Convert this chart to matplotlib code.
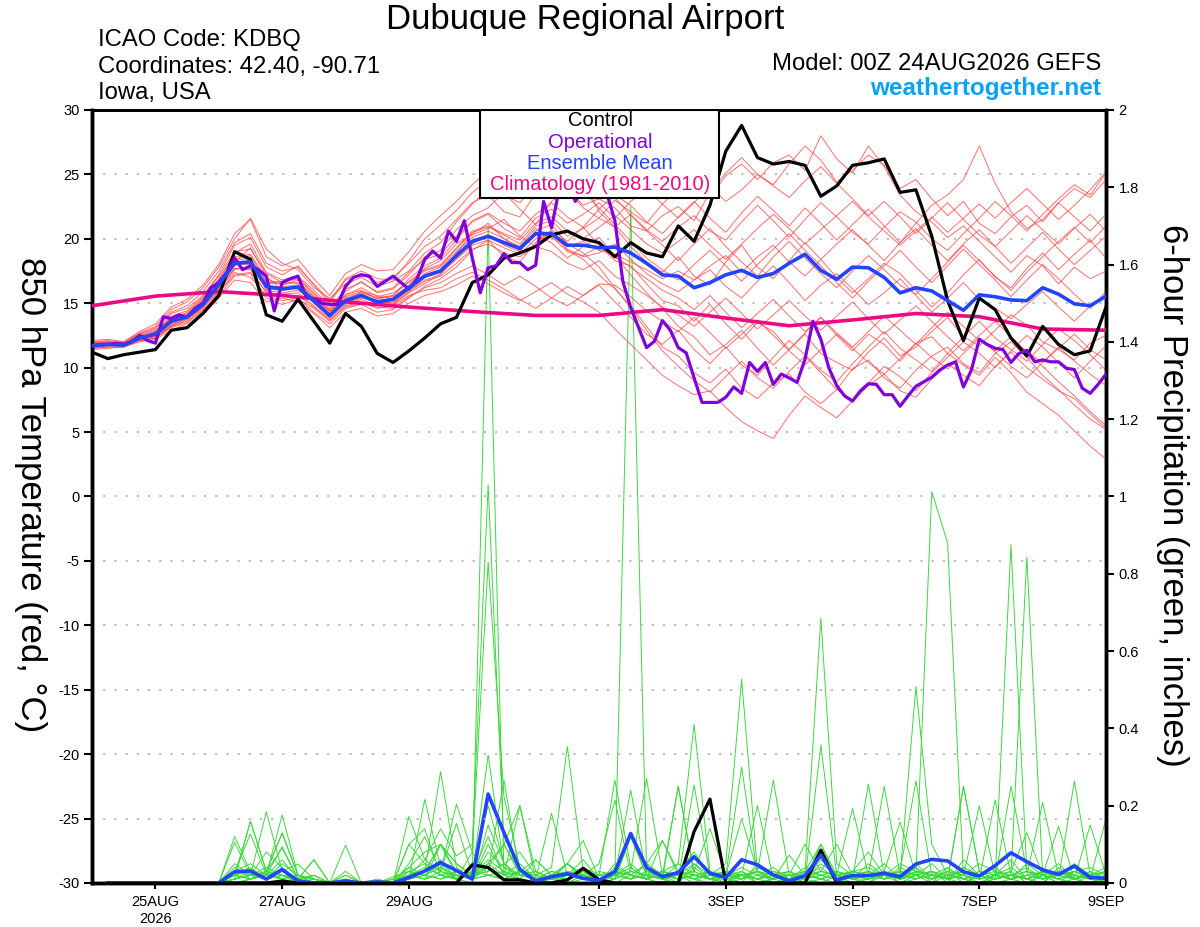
import numpy as np
import matplotlib
matplotlib.use('Agg')
from matplotlib import pyplot as plt
from matplotlib.patches import Rectangle

plt.rcParams['font.family'] = ['Liberation Sans', 'DejaVu Sans']
plt.rcParams['axes.unicode_minus'] = False

# ---- text ----
title = 'Dubuque Regional Airport'
info_left = ['ICAO Code: KDBQ', 'Coordinates: 42.40, -90.71', 'Iowa, USA']
model_txt = 'Model: 00Z 24AUG2026 GEFS'
site_txt = 'weathertogether.net'
legend_items = ['Control', 'Operational', 'Ensemble Mean', 'Climatology (1981-2010)']

# x ticks (hours since 00Z 24AUG)
xtick_hours = [24, 72, 120, 192, 240, 288, 336, 384]
xtick_labels = ['25AUG\n2026', '27AUG', '29AUG', '1SEP', '3SEP', '5SEP', '7SEP', '9SEP']

# ---- 850 hPa temperature, 6-hourly from 00Z 24AUG ----
control_t = [11.2, 10.7, 11.0, 11.2, 11.4, 12.9, 13.1, 14.2, 15.6, 19.0, 18.4, 14.1, 13.6, 15.3, 13.6, 11.9, 14.2, 13.2, 11.1, 10.4,
             11.3, 12.3, 13.4, 13.9, 16.6, 17.2, 18.5, 18.9, 19.4, 20.3, 20.6, 20.0, 19.7, 18.6, 19.7, 18.9, 18.6,
             21.0, 19.8, 22.6, 26.8, 28.8, 26.3, 25.8, 26.0, 25.7, 23.3, 24.1, 25.7, 25.9, 26.2, 23.6, 23.8, 20.2, 15.2,
             12.1, 15.4, 14.5, 12.3, 10.9, 13.2, 11.8, 11.0, 11.3, 14.7]

mean_t = [11.7, 11.8, 11.75, 12.3, 12.6, 13.6, 13.95, 14.9, 16.45, 18.1, 18.2, 16.3, 16.1, 16.25, 15.2, 14.05, 15.2, 15.6, 15.1, 15.3,
          16.2, 17.1, 17.5, 18.7, 19.8, 20.2, 19.7, 19.25, 20.4, 20.4, 19.5, 19.5, 19.3, 19.35, 18.9, 18.1, 17.2,
          17.1, 16.2, 16.6, 17.2, 17.55, 17.0, 17.3, 18.1, 18.8, 17.55, 16.85, 17.8, 17.75, 17.0, 15.8, 16.2, 15.95, 15.2,
          14.45, 15.65, 15.5, 15.25, 15.2, 16.2, 15.7, 14.95, 14.8, 15.55]

# operational run, 3-hourly
oper_t = [11.7, 11.8, 11.8, 11.9, 11.8, 12.0, 12.5, 12.1,
          11.9, 13.95, 13.8, 14.1, 13.9, 14.6, 15.0, 16.2,
          16.6, 17.4, 18.5, 17.6, 17.9, 17.6, 17.1, 14.4,
          16.6, 16.9, 17.1, 15.55, 15.3, 15.0, 14.9, 14.9,
          16.3, 17.0, 17.2, 17.1, 16.3, 16.7, 17.1, 16.6,
          16.1, 16.85, 18.4, 19.05, 18.5, 20.6, 19.8, 21.4,
          18.5, 15.8, 17.75, 17.9, 18.85, 18.15, 18.15, 17.6,
          17.95, 22.9, 20.85, 23.95, 24.5, 22.9, 24.0, 25.0,
          24.8, 23.5, 21.4, 16.7, 14.65, 13.1, 11.55, 12.05,
          13.65, 12.9, 11.55, 11.15, 9.2, 7.3, 7.3, 7.3,
          7.7, 8.5, 8.0, 10.4, 9.7, 10.4, 8.7, 9.5,
          9.2, 8.85, 10.65, 13.6, 12.2, 10.0, 8.6, 7.8,
          7.4, 8.2, 8.75, 8.7, 7.9, 7.9, 7.0, 7.8,
          8.55, 8.9, 9.25, 9.8, 10.2, 10.45, 8.5, 9.8,
          12.2, 11.8, 11.5, 11.4, 10.4, 11.1, 11.35, 10.45,
          10.6, 10.45, 10.45, 9.95, 9.85, 8.4, 8.0, 8.7,
          9.5]

# climatology, daily
clim_t = [14.8, 15.55, 15.9, 15.6, 15.1, 14.7, 14.35, 14.05, 14.05, 14.5, 13.85, 13.25, 13.7, 14.2, 13.95, 13.0, 12.9]

# ensemble members, 6-hourly
members_t = [
    [11.9, 12.0, 11.9, 12.6, 13.0, 14.2, 14.6, 15.6, 17.2, 19.5, 20.1, 17.8, 17.2, 17.9, 16.4, 15.0, 16.8, 17.3, 16.6, 17.0,
     18.1, 19.4, 20.2, 21.5, 22.8, 23.4, 22.1, 21.7, 23.5, 24.8, 23.9, 22.6, 23.1, 22.4, 21.0, 20.6, 21.8,
     22.5, 21.4, 23.6, 25.1, 26.3, 25.0, 24.2, 25.8, 27.2, 26.1, 24.4, 25.3, 26.5, 25.7, 23.9, 24.6, 23.1, 21.8, 22.9, 21.2,
     20.4, 21.7, 22.6, 21.3, 22.8, 23.9, 23.2, 24.6],
    [11.5, 11.6, 11.6, 12.1, 12.3, 13.1, 13.5, 14.3, 15.8, 17.4, 17.0, 15.6, 15.2, 15.4, 14.3, 13.4, 14.6, 14.9, 14.3, 14.5,
     15.4, 16.3, 16.9, 17.8, 19.1, 19.9, 18.6, 18.2, 19.7, 20.6, 19.1, 18.4, 17.2, 16.1, 14.8, 13.2, 11.6,
     10.9, 9.6, 8.8, 9.9, 8.4, 7.6, 8.8, 9.5, 8.1, 7.2, 8.3, 9.9, 10.6, 9.2, 8.4, 9.8, 10.9, 11.6, 10.3, 9.6,
     11.1, 12.0, 10.8, 9.4, 8.3, 7.1, 6.0, 5.2],
    [12.1, 12.2, 12.0, 12.8, 13.4, 14.7, 15.3, 16.4, 18.0, 20.4, 21.5, 18.6, 17.9, 18.4, 16.9, 15.6, 17.3, 18.0, 17.5, 17.6,
     19.0, 20.6, 21.8, 22.9, 24.2, 25.3, 24.1, 23.6, 25.8, 25.1, 23.2, 24.6, 22.1, 20.9, 19.4, 18.2, 17.4,
     18.6, 17.1, 16.4, 18.2, 19.5, 17.8, 16.9, 18.3, 19.7, 18.4, 17.0, 15.8, 16.9, 18.1, 17.3, 16.0, 14.7, 15.8, 17.2, 18.4,
     17.0, 16.2, 17.7, 18.9, 17.6, 18.8, 19.9, 18.5],
    [11.6, 11.7, 11.8, 12.2, 12.4, 13.3, 13.8, 14.6, 16.0, 17.6, 17.9, 16.5, 16.6, 16.9, 15.7, 14.4, 15.1, 15.9, 15.6, 15.3,
     16.0, 16.8, 17.2, 18.9, 20.4, 21.2, 20.0, 19.1, 20.3, 19.7, 18.5, 19.4, 20.1, 18.7, 17.2, 15.8, 14.6,
     13.2, 12.4, 11.0, 11.8, 12.9, 11.5, 10.2, 11.4, 12.6, 11.1, 10.4, 9.8, 11.2, 12.3, 10.9, 11.6, 12.8, 13.9, 12.4, 11.7,
     12.9, 14.1, 13.3, 12.0, 11.4, 10.6, 11.9, 12.5],
    [11.8, 11.9, 11.7, 12.4, 12.7, 13.9, 14.1, 15.2, 16.9, 18.6, 18.8, 16.9, 16.4, 16.8, 15.5, 14.3, 15.6, 16.2, 15.5, 15.8,
     16.6, 17.5, 17.9, 19.2, 20.5, 20.9, 20.3, 19.6, 21.0, 21.4, 20.2, 20.8, 21.6, 20.9, 21.9, 20.7, 19.8,
     20.9, 21.8, 20.6, 19.9, 21.3, 22.6, 21.4, 20.1, 21.5, 22.8, 21.7, 20.5, 19.6, 20.9, 22.1, 21.3, 20.0, 19.1, 20.4, 21.6,
     22.9, 21.8, 20.6, 21.9, 23.1, 24.2, 23.4, 25.1],
    [11.4, 11.5, 11.6, 12.0, 12.2, 12.9, 13.4, 14.1, 15.4, 16.8, 16.6, 15.1, 15.4, 15.1, 14.2, 13.1, 14.3, 14.6, 14.0, 14.2,
     15.0, 15.6, 15.9, 16.4, 17.1, 16.5, 15.8, 15.2, 15.9, 16.6, 15.7, 15.1, 14.3, 13.0, 11.8, 10.6, 9.4,
     8.6, 7.9, 8.2, 6.9, 5.8, 5.1, 4.5, 6.3, 7.8, 6.9, 6.1, 7.4, 8.6, 9.5, 8.2, 7.7, 9.1, 10.3, 9.4, 8.6,
     10.1, 11.2, 10.0, 9.1, 8.2, 7.6, 6.4, 5.3],
    [11.9, 11.8, 11.9, 12.5, 12.9, 13.8, 14.2, 15.3, 16.6, 18.2, 19.3, 17.1, 16.0, 16.3, 15.0, 13.9, 15.4, 15.8, 15.4, 15.5,
     16.4, 17.7, 18.3, 19.6, 20.3, 20.8, 21.5, 20.2, 19.4, 20.7, 19.8, 20.9, 19.5, 18.3, 17.9, 16.5, 15.2,
     14.8, 13.6, 14.9, 13.4, 12.2, 13.5, 12.8, 11.4, 12.7, 13.9, 12.5, 11.3, 12.6, 11.8, 10.5, 11.9, 12.4, 11.1, 10.2, 9.4,
     10.8, 9.6, 8.1, 7.2, 6.3, 5.1, 3.9, 2.9],
    [11.7, 11.9, 11.8, 12.3, 12.8, 13.7, 14.3, 15.4, 16.8, 18.9, 19.6, 17.4, 16.8, 17.1, 16.0, 14.8, 15.9, 16.7, 15.8, 16.1,
     17.2, 18.6, 19.1, 20.7, 21.8, 22.4, 23.6, 22.3, 21.1, 22.9, 23.8, 22.4, 21.6, 23.0, 22.1, 21.2, 22.7,
     23.9, 24.8, 23.2, 24.9, 25.8, 24.6, 25.9, 26.5, 25.3, 28.0, 26.2, 25.1, 27.2, 25.6, 23.4, 22.1, 21.3, 20.1, 21.0, 19.8,
     18.6, 17.4, 18.7, 17.9, 16.5, 17.8, 16.9, 17.5],
    [11.6, 11.8, 11.9, 12.2, 12.5, 13.4, 13.9, 14.8, 16.3, 17.9, 18.4, 16.0, 15.8, 16.0, 15.1, 14.0, 15.0, 15.4, 15.2, 14.9,
     15.8, 16.5, 17.3, 18.4, 19.5, 19.9, 19.3, 18.8, 20.0, 20.5, 19.2, 18.6, 18.9, 19.6, 18.4, 17.3, 16.5,
     15.9, 16.8, 17.6, 16.3, 15.4, 16.7, 17.9, 16.6, 15.2, 16.4, 17.3, 16.1, 14.9, 15.8, 16.9, 15.6, 14.3, 15.4, 16.6, 15.3,
     14.6, 13.8, 14.9, 15.9, 14.7, 13.6, 14.8, 15.6],
    [12.0, 12.1, 12.0, 12.7, 13.2, 14.5, 15.1, 16.2, 17.8, 20.0, 21.6, 19.2, 18.1, 17.6, 16.2, 15.4, 16.5, 17.0, 16.3, 16.7,
     17.5, 18.9, 19.7, 21.3, 22.7, 23.9, 24.8, 25.6, 24.4, 23.1, 24.7, 25.9, 24.6, 23.2, 21.8, 20.6, 19.5,
     18.3, 19.6, 20.8, 19.4, 18.2, 17.1, 18.6, 19.8, 18.5, 17.3, 16.2, 17.5, 18.7, 17.6, 16.4, 15.7, 16.9, 18.2, 19.5, 18.3,
     17.1, 16.0, 17.4, 18.6, 19.8, 20.9, 19.7, 21.0],
    [11.5, 11.7, 11.7, 12.1, 12.3, 13.2, 13.7, 14.5, 15.6, 17.1, 17.3, 15.4, 14.9, 15.3, 14.6, 13.6, 14.8, 15.1, 14.6, 14.8,
     15.6, 16.0, 16.2, 16.9, 17.4, 16.8, 16.1, 15.3, 14.6, 15.4, 16.3, 15.6, 16.4, 15.1, 13.9, 12.6, 11.8,
     12.9, 11.4, 10.3, 11.6, 10.2, 9.4, 10.8, 12.1, 11.0, 9.8, 8.9, 10.3, 11.6, 12.8, 11.5, 10.6, 9.7, 11.1, 12.4, 13.6,
     12.3, 11.4, 10.5, 11.8, 13.0, 12.1, 11.0, 9.8],
    [11.8, 11.9, 11.8, 12.4, 12.6, 13.8, 14.0, 15.0, 16.7, 18.3, 18.5, 16.6, 16.7, 16.5, 15.4, 14.5, 15.7, 16.0, 15.3, 15.6,
     16.9, 17.9, 18.5, 19.9, 21.4, 22.0, 21.2, 20.6, 21.9, 22.8, 21.7, 20.9, 22.3, 23.4, 22.6, 21.3, 20.4,
     21.7, 22.9, 21.6, 20.5, 22.0, 23.3, 22.2, 21.0, 22.4, 21.2, 19.9, 21.1, 22.3, 21.0, 19.7, 20.8, 19.5, 18.3, 19.6, 20.7,
     19.4, 18.1, 19.3, 20.5, 19.2, 18.0, 19.1, 20.2],
    [11.7, 11.7, 11.8, 12.3, 12.5, 13.5, 13.8, 14.7, 16.2, 17.7, 17.7, 16.2, 16.3, 16.4, 15.3, 14.2, 15.3, 15.7, 15.0, 15.1,
     16.0, 17.0, 17.4, 18.5, 19.6, 20.3, 19.5, 19.0, 20.6, 21.1, 19.6, 18.9, 17.8, 16.2, 14.6, 12.9, 11.3,
     10.1, 9.0, 8.1, 9.3, 10.5, 9.2, 8.4, 9.7, 10.9, 9.6, 8.3, 7.5, 8.8, 10.1, 9.3, 8.2, 9.6, 10.8, 12.0, 11.1,
     10.0, 11.3, 12.5, 11.6, 10.4, 9.2, 10.5, 11.7],
    [11.6, 11.8, 11.7, 12.2, 12.6, 13.6, 13.9, 14.9, 16.5, 18.0, 18.0, 16.4, 16.2, 16.1, 15.0, 14.1, 15.2, 15.5, 15.2, 15.0,
     16.1, 17.2, 17.6, 18.6, 19.7, 20.1, 19.8, 19.4, 20.5, 20.1, 19.4, 19.8, 19.1, 18.8, 18.2, 17.6, 16.9,
     17.5, 16.8, 17.9, 18.7, 17.4, 18.6, 19.5, 18.2, 17.1, 18.4, 19.6, 20.7, 19.5, 18.3, 19.7, 21.2, 22.6, 23.4, 24.6, 27.2,
     24.3, 22.1, 20.8, 21.5, 22.8, 21.7, 20.6, 21.9],
    [11.8, 11.8, 11.7, 12.3, 12.7, 13.6, 14.0, 15.0, 16.4, 18.2, 18.3, 16.1, 16.0, 16.2, 15.1, 13.9, 15.1, 15.5, 15.0, 15.3,
     16.3, 17.3, 17.8, 19.0, 20.1, 20.6, 20.0, 19.4, 20.8, 20.2, 19.0, 18.7, 19.4, 18.6, 17.8, 16.9, 16.0,
     15.4, 14.5, 15.6, 14.3, 13.1, 14.2, 15.3, 14.0, 12.8, 13.9, 12.7, 11.6, 12.8, 14.0, 12.9, 11.8, 13.1, 14.3, 13.2, 12.1,
     11.3, 12.4, 11.2, 10.4, 11.5, 12.6, 11.4, 10.6],
    [11.9, 12.0, 11.9, 12.5, 12.8, 14.0, 14.4, 15.5, 17.1, 19.0, 19.2, 17.3, 16.6, 17.0, 15.8, 14.6, 16.1, 16.6, 15.9, 16.2,
     17.4, 18.4, 18.8, 20.2, 21.3, 21.9, 20.8, 20.1, 21.6, 22.3, 21.2, 21.9, 22.8, 21.6, 22.9, 23.8, 22.7,
     21.6, 22.8, 24.1, 22.9, 23.8, 25.0, 24.1, 23.2, 24.5, 25.6, 24.3, 23.1, 21.8, 22.9, 21.7, 20.4, 21.6, 22.8, 21.5, 20.3,
     19.4, 20.6, 21.8, 20.7, 19.6, 20.8, 21.9, 20.6],
    [11.6, 11.7, 11.7, 12.2, 12.4, 13.3, 13.8, 14.7, 16.1, 17.7, 17.6, 15.8, 15.7, 15.8, 14.8, 13.8, 14.9, 15.3, 14.8, 14.9,
     15.9, 16.7, 17.1, 18.1, 19.2, 19.6, 18.9, 18.6, 19.4, 19.0, 18.1, 17.6, 18.3, 17.1, 16.4, 15.6, 14.7,
     14.1, 13.2, 14.3, 15.4, 14.2, 13.0, 14.1, 15.2, 14.0, 12.9, 14.0, 15.1, 13.8, 12.6, 13.7, 14.8, 13.6, 12.4, 11.3, 12.5,
     13.6, 12.4, 11.2, 10.1, 8.9, 7.8, 6.6, 5.5],
    [12.0, 12.0, 11.9, 12.6, 13.1, 14.3, 14.8, 15.9, 17.5, 19.7, 20.4, 18.1, 17.5, 17.8, 16.5, 15.2, 16.9, 17.5, 16.9, 16.8,
     18.3, 20.0, 21.1, 22.2, 23.6, 24.5, 23.4, 22.8, 24.2, 26.0, 25.1, 23.7, 22.4, 21.1, 19.8, 18.5, 17.6,
     16.8, 18.0, 19.1, 17.9, 16.7, 18.0, 19.2, 20.4, 19.1, 17.9, 16.6, 15.4, 16.7, 17.9, 19.1, 17.8, 16.6, 17.9, 19.2, 18.0,
     16.8, 15.5, 16.8, 18.0, 16.9, 15.7, 14.6, 15.9],
    [11.5, 11.6, 11.6, 12.1, 12.3, 13.2, 13.6, 14.4, 15.9, 17.2, 17.4, 15.9, 15.6, 15.6, 14.7, 13.7, 14.7, 15.0, 14.7, 14.6,
     15.5, 16.2, 16.6, 17.3, 17.9, 17.2, 16.4, 17.1, 16.3, 15.4, 14.8, 15.6, 16.5, 16.4, 15.5, 14.4, 13.6,
     12.8, 13.9, 12.7, 11.5, 12.6, 13.7, 12.5, 11.3, 10.2, 11.4, 12.6, 11.5, 10.4, 9.5, 10.7, 11.9, 10.8, 9.9, 11.1, 12.3,
     11.2, 10.1, 9.2, 10.4, 11.6, 10.5, 9.5, 8.6],
    [11.7, 11.9, 11.8, 12.4, 12.7, 13.8, 14.1, 15.1, 16.6, 18.4, 18.7, 16.7, 16.5, 16.6, 15.5, 14.4, 15.5, 15.9, 15.4, 15.6,
     16.7, 17.6, 18.0, 19.3, 20.6, 21.0, 20.4, 19.9, 21.2, 21.7, 20.6, 20.0, 20.9, 21.8, 20.7, 19.6, 18.9,
     19.8, 20.7, 19.5, 18.4, 19.6, 20.8, 21.9, 20.8, 19.6, 20.7, 21.8, 22.9, 21.7, 20.6, 19.5, 20.6, 21.7, 20.5, 21.6, 22.7,
     21.6, 22.8, 23.9, 22.7, 21.5, 22.6, 23.8, 25.2],
]

# ---- 6-hour precipitation (inches), first value at 06Z 24AUG ----
control_p = [0, 0, 0, 0, 0, 0, 0, 0,
             0, 0, 0, 0.005, 0, 0, 0, 0,
             0, 0, 0, 0, 0, 0, 0, 0.047,
             0.04, 0.008, 0.008, 0, 0, 0.008, 0.038, 0.008,
             0, 0, 0, 0, 0, 0.133, 0.217, 0,
             0, 0, 0, 0, 0, 0.085, 0, 0,
             0, 0, 0, 0, 0, 0, 0, 0,
             0, 0, 0, 0, 0, 0, 0, 0]

mean_p = [0, 0, 0, 0, 0, 0, 0, 0,
          0.029, 0.031, 0.01, 0.035, 0.005, 0, 0, 0.005,
          0, 0.003, 0, 0.014, 0.031, 0.053, 0.032, 0.01,
          0.23, 0.13, 0.035, 0.005, 0.016, 0.024, 0.012, 0.007,
          0.029, 0.128, 0.04, 0.016, 0.027, 0.068, 0.025, 0.014,
          0.06, 0.047, 0.021, 0.005, 0.019, 0.072, 0.008, 0.019,
          0.019, 0.025, 0.016, 0.049, 0.061, 0.057, 0.029, 0.018,
          0.045, 0.078, 0.055, 0.034, 0.022, 0.044, 0.014, 0.012]

members_p = [
    [0, 0, 0, 0, 0, 0, 0, 0, 0.03, 0.05, 0.02, 0.06, 0.01, 0, 0, 0.02,
     0, 0, 0.01, 0.04, 0.08, 0.1, 0.05, 0.02, 1.70, 0.02, 0.01, 0, 0, 0.03, 0.01, 0,
     0.05, 0.02, 0.01, 0, 0.03, 0.08, 0.02, 0, 0.02, 0.01, 0, 0, 0.01, 0.06, 0.02, 0,
     0.01, 0.03, 0, 0.02, 0.05, 0.01, 0, 0.02, 0.04, 0.01, 0, 0.02, 0, 0.01, 0.03, 0],
    [0, 0, 0, 0, 0, 0, 0, 0, 0.01, 0.02, 0.08, 0.04, 0, 0.01, 0, 0,
     0, 0, 0, 0.02, 0.06, 0.14, 0.07, 0.1, 1.03, 0.1, 0.03, 0, 0, 0, 0.02, 0,
     0.01, 0.03, 0.27, 0.02, 0, 0.05, 0.01, 0, 0.03, 0, 0.01, 0.02, 0, 0.01, 0, 0.03,
     0.08, 0.02, 0, 0.01, 0.03, 0, 0.06, 0.02, 0, 0.01, 0.05, 0.02, 0, 0.03, 0.01, 0],
    [0, 0, 0, 0, 0, 0, 0, 0, 0.12, 0.03, 0.01, 0.02, 0, 0, 0, 0.01,
     0, 0.01, 0, 0.1, 0.05, 0.03, 0.204, 0.08, 0.83, 0.223, 0.04, 0.01, 0, 0.02, 0.04, 0.01,
     0, 0.02, 0.05, 0.11, 0.02, 0, 0.03, 0.01, 0, 0.05, 0.02, 0, 0.03, 0.1, 0.01, 0,
     0, 0.02, 0.01, 0.04, 0, 0.02, 0.01, 0, 0.02, 0.06, 0.01, 0, 0.04, 0.01, 0, 0.02],
    [0, 0, 0, 0, 0, 0, 0, 0, 0.02, 0.01, 0.03, 0.09, 0.01, 0, 0, 0,
     0, 0, 0, 0.03, 0.02, 0.05, 0.01, 0, 0.15, 0.05, 0.01, 0, 0.02, 0.01, 0.03, 0,
     0.02, 1.75, 0.03, 0.01, 0, 0.04, 0.01, 0, 0.02, 0, 0.01, 0.03, 0.01, 0, 0.02, 0.01,
     0, 0.03, 0.01, 0.02, 0, 0.04, 0.01, 0, 0.01, 0.03, 0, 0.02, 0.05, 0.01, 0, 0.01],
    [0, 0, 0, 0, 0, 0, 0, 0, 0, 0.01, 0.02, 0.01, 0, 0, 0, 0,
     0, 0, 0.01, 0.02, 0.04, 0.02, 0.01, 0.03, 0.2, 0.05, 0.02, 0.01, 0, 0.01, 0.02, 0.01,
     0.03, 0.01, 0.05, 0.02, 0.01, 0.02, 0.01, 0, 0.01, 0.03, 0, 0.01, 0.02, 0.01, 0, 0.02,
     0.01, 0.02, 0.03, 0.02, 1.012, 0.88, 0.02, 0, 0.01, 0.02, 0.01, 0, 0.03, 0.01, 0.02, 0],
    [0, 0, 0, 0, 0, 0, 0, 0, 0.01, 0.16, 0.03, 0.13, 0.02, 0, 0, 0,
     0, 0, 0, 0.05, 0.12, 0.03, 0.02, 0.01, 0.05, 0.1, 0.2, 0.03, 0.01, 0, 0.01, 0,
     0.01, 0.12, 0.02, 0.01, 0.05, 0.02, 0.01, 0.02, 0.167, 0.03, 0.01, 0, 0.02, 0.04, 0.01, 0.03,
     0.02, 0.01, 0.04, 0.02, 0.01, 0.03, 0, 0.02, 0.01, 0.875, 0.03, 0.01, 0.02, 0.04, 0.01, 0.03],
    [0, 0, 0, 0, 0, 0, 0, 0, 0.05, 0.02, 0.01, 0.03, 0.01, 0.06, 0, 0,
     0, 0, 0, 0.02, 0.03, 0.1, 0.05, 0.02, 0.06, 0.03, 0.01, 0.06, 0.02, 0.05, 0.11, 0.01,
     0.02, 0.01, 0.03, 0.02, 0.25, 0.03, 0.01, 0.02, 0.01, 0.02, 0.04, 0.01, 0.01, 0.02, 0.03, 0.01,
     0.05, 0.02, 0.01, 0.03, 0.02, 0.01, 0.04, 0.02, 0.01, 0.02, 0.843, 0.02, 0.01, 0.03, 0.02, 0.01],
    [0, 0, 0, 0, 0, 0, 0, 0, 0, 0.01, 0.02, 0.03, 0.049, 0.01, 0, 0,
     0, 0, 0, 0.172, 0.06, 0.03, 0.01, 0.02, 0.331, 0.04, 0.02, 0.01, 0.03, 0.02, 0.01, 0,
     0.04, 0.02, 0.01, 0.03, 0.02, 0.01, 0, 0.02, 0.03, 0.01, 0.02, 0.01, 0.03, 0.685, 0.05, 0.02,
     0.01, 0.03, 0.02, 0.05, 0.01, 0.02, 0.03, 0.01, 0.02, 0.01, 0.03, 0.02, 0.01, 0, 0.02, 0.01],
    [0, 0, 0, 0, 0, 0, 0, 0, 0.02, 0.04, 0.01, 0.02, 0, 0.02, 0, 0,
     0, 0, 0, 0.01, 0.216, 0.04, 0.02, 0.01, 0.1, 0.02, 0.01, 0, 0.01, 0.05, 0.02, 0.01,
     0.02, 0.04, 0.01, 0.03, 0.02, 0.05, 0.02, 0.05, 0.527, 0.03, 0.02, 0.01, 0.03, 0.02, 0.01, 0.03,
     0.02, 0.05, 0.01, 0.03, 0.02, 0.01, 0.04, 0.02, 0.03, 0.01, 0.02, 0.01, 0.03, 0.02, 0.01, 0.02],
    [0, 0, 0, 0, 0, 0, 0, 0, 0.03, 0.127, 0.02, 0.01, 0, 0, 0, 0.03,
     0, 0, 0, 0.02, 0.01, 0.1, 0.03, 0.02, 0.05, 0.02, 0.03, 0.01, 0.02, 0.01, 0.03, 0.02,
     0.01, 0.03, 0.02, 0.01, 0.03, 0.02, 0.01, 0.02, 0.04, 0.02, 0.01, 0.02, 0.01, 0.03, 0.02, 0.01,
     0.03, 0.01, 0.02, 0.508, 0.1, 0.02, 0.01, 0.03, 0.01, 0.02, 0.01, 0.03, 0.02, 0.01, 0.03, 0.01],
    [0, 0, 0, 0, 0, 0, 0, 0, 0.01, 0.02, 0.184, 0.03, 0.01, 0, 0, 0.01,
     0, 0, 0, 0.01, 0.03, 0.288, 0.04, 0.01, 0.02, 0.01, 0.03, 0.02, 0.01, 0.02, 0.01, 0.02,
     0.03, 0.02, 0.01, 0.03, 0.05, 0.41, 0.03, 0.01, 0.02, 0.01, 0.03, 0.02, 0.01, 0.02, 0.03, 0.01,
     0.02, 0.03, 0.01, 0.02, 0.03, 0.01, 0.25, 0.03, 0.02, 0.01, 0.02, 0.03, 0.01, 0.02, 0.01, 0.03],
    [0, 0, 0, 0, 0, 0, 0, 0, 0.02, 0.01, 0.02, 0.176, 0.02, 0.01, 0, 0,
     0, 0, 0, 0.02, 0.01, 0.03, 0.154, 0.02, 0.03, 0.05, 0.08, 0.02, 0.04, 0.353, 0.03, 0.01,
     0.02, 0.03, 0.02, 0.01, 0.02, 0.03, 0.141, 0.02, 0.01, 0.03, 0.02, 0.01, 0.02, 0.03, 0.02, 0.193,
     0.02, 0.01, 0.03, 0.02, 0.01, 0.02, 0.03, 0.01, 0.215, 0.02, 0.01, 0.03, 0.02, 0.01, 0.02, 0.03],
    [0, 0, 0, 0, 0, 0, 0, 0, 0.105, 0.02, 0.01, 0.02, 0.01, 0.06, 0, 0.02,
     0, 0, 0, 0.01, 0.02, 0.04, 0.01, 0.02, 0.03, 0.266, 0.02, 0.01, 0.02, 0.05, 0.01, 0.02,
     0.266, 0.04, 0.01, 0.02, 0.01, 0.253, 0.02, 0.03, 0.02, 0.01, 0.02, 0.03, 0.01, 0.357, 0.02, 0.01,
     0.256, 0.02, 0.01, 0.03, 0.02, 0.01, 0.02, 0.2, 0.02, 0.01, 0.02, 0.208, 0.02, 0.01, 0.02, 0.01],
    [0, 0, 0, 0, 0, 0, 0, 0, 0.02, 0.159, 0.03, 0.128, 0.02, 0.01, 0, 0.098,
     0, 0, 0.016, 0.03, 0.02, 0.01, 0.03, 0.02, 0.04, 0.02, 0.2, 0.01, 0.18, 0.02, 0.01, 0.03,
     0.02, 0.24, 0.02, 0.01, 0.02, 0.03, 0.01, 0.02, 0.3, 0.02, 0.01, 0.02, 0.1, 0.03, 0.02, 0.01,
     0.02, 0.25, 0.02, 0.01, 0.03, 0.02, 0.01, 0.02, 0.01, 0.25, 0.03, 0.02, 0.01, 0.264, 0.02, 0.03],
    [0, 0, 0, 0, 0, 0, 0, 0, 0.01, 0.03, 0.02, 0.094, 0.01, 0.02, 0, 0,
     0, 0, 0, 0.02, 0.01, 0.02, 0.01, 0.03, 0.02, 0.01, 0.03, 0.06, 0.02, 0.01, 0.02, 0.05,
     0.215, 0.02, 0.01, 0.03, 0.02, 0.01, 0.03, 0.02, 0.02, 0.03, 0.266, 0.02, 0.01, 0.1, 0.02, 0.03,
     0.02, 0.03, 0.158, 0.02, 0.01, 0.03, 0.02, 0.01, 0.02, 0.03, 0.13, 0.02, 0.146, 0.01, 0.15, 0.02],
    [0, 0, 0, 0, 0, 0, 0, 0, 0.04, 0.01, 0.03, 0.02, 0.01, 0, 0, 0,
     0, 0, 0, 0.1, 0.14, 0.02, 0.01, 0.08, 0.02, 0.01, 0.03, 0.02, 0.01, 0.02, 0.01, 0.02,
     0.01, 0.12, 0.02, 0.01, 0.25, 0.02, 0.01, 0.02, 0.02, 0.01, 0.02, 0.01, 0.02, 0.03, 0.1, 0.02,
     0.01, 0.02, 0.03, 0.264, 0.02, 0.01, 0.25, 0.03, 0.01, 0.02, 0.03, 0.01, 0.02, 0.03, 0.01, 0.167],
    [0, 0, 0, 0, 0, 0, 0, 0, 0.01, 0.02, 0.01, 0.03, 0, 0.01, 0, 0.01,
     0, 0, 0, 0.01, 0.02, 0.01, 0.02, 0.01, 0.02, 0.03, 0.02, 0.01, 0.02, 0.03, 0.02, 0.01,
     0.02, 0.01, 0.02, 0.03, 0.01, 0.02, 0.01, 0.01, 0.02, 0.2, 0.01, 0.072, 0.02, 0.01, 0.03, 0.02,
     0.03, 0.02, 0.01, 0.02, 0.03, 0.01, 0.02, 0.01, 0.02, 0.01, 0.02, 0.01, 0.03, 0.02, 0.01, 0.02],
    [0, 0, 0, 0, 0, 0, 0, 0, 0.03, 0.02, 0.04, 0.02, 0.01, 0.02, 0, 0,
     0, 0, 0, 0.03, 0.05, 0.02, 0.03, 0.01, 0.08, 0.04, 0.02, 0.03, 0.01, 0.02, 0.04, 0.02,
     0.03, 0.02, 0.05, 0.02, 0.03, 0.01, 0.02, 0.03, 0.01, 0.04, 0.02, 0.03, 0.01, 0.05, 0.02, 0.03,
     0.04, 0.02, 0.05, 0.03, 0.02, 0.04, 0.01, 0.03, 0.02, 0.04, 0.01, 0.03, 0.02, 0.05, 0.02, 0.04],
    [0, 0, 0, 0, 0, 0, 0, 0, 0.02, 0.03, 0.01, 0.05, 0.02, 0.01, 0, 0,
     0, 0, 0, 0.04, 0.02, 0.06, 0.01, 0.02, 0.12, 0.02, 0.05, 0.01, 0.03, 0.02, 0.06, 0.01,
     0.02, 0.05, 0.01, 0.11, 0.03, 0.02, 0.01, 0.03, 0.02, 0.01, 0.03, 0.01, 0.04, 0.02, 0.01, 0.02,
     0.03, 0.01, 0.02, 0.04, 0.01, 0.03, 0.02, 0.05, 0.03, 0.02, 0.04, 0.01, 0.02, 0.03, 0.04, 0.02],
    [0, 0, 0, 0, 0, 0, 0, 0, 0.01, 0.02, 0.03, 0.01, 0.02, 0, 0, 0,
     0, 0, 0, 0.01, 0.03, 0.1, 0.02, 0.01, 0.04, 0.1, 0.02, 0.03, 0.01, 0.05, 0.02, 0.01,
     0.02, 0.01, 0.03, 0.02, 0.01, 0.02, 0.03, 0.01, 0.02, 0.03, 0.01, 0.02, 0.03, 0.01, 0.02, 0.01,
     0.01, 0.02, 0.03, 0.01, 0.02, 0.01, 0.03, 0.02, 0.01, 0.02, 0.01, 0.02, 0.03, 0.01, 0.02, 0.01],
]

# ---- colours ----
c_member_t = '#ff4a4a'
c_member_p = '#3cd83c'
c_control = 'black'
c_oper = '#8000dc'
c_mean = '#2244ff'
c_clim = '#ec0a84'
legend_colors = [c_control, c_oper, c_mean, c_clim]


def hours(vals, step, start=0):
    return start + np.arange(len(vals)) * step


fig = plt.figure(figsize=(12, 9.27), dpi=100)
ax = fig.add_axes([0.0767, 0.0475, 0.845, 0.8339])
ax2 = ax.twinx()
ax.set_zorder(ax2.get_zorder() + 1)
ax.patch.set_visible(False)

# precipitation (right axis)
for m in members_p:
    ax2.plot(hours(m, 6, 6), m, color=c_member_p, lw=0.7)
ax2.plot(hours(control_p, 6, 6), control_p, color=c_control, lw=2.3, zorder=5)
ax2.plot(hours(mean_p, 6, 6), mean_p, color=c_mean, lw=2.6, zorder=6)

# temperature (left axis)
for m in members_t:
    ax.plot(hours(m, 6), m, color=c_member_t, lw=0.7, alpha=0.8, zorder=2)
ax.plot(hours(clim_t, 24), clim_t, color=c_clim, lw=2.6, zorder=3)
ax.plot(hours(control_t, 6), control_t, color=c_control, lw=2.3, zorder=4)
ax.plot(hours(oper_t, 3), oper_t, color=c_oper, lw=2.3, zorder=5)
ax.plot(hours(mean_t, 6), mean_t, color=c_mean, lw=2.6, zorder=6)

# axes setup
ax.set_xlim(0, 384)
ax.set_ylim(-30, 30)
ax.set_yticks(np.arange(-30, 31, 5))
ax.set_xticks(xtick_hours)
ax.set_xticklabels(xtick_labels, linespacing=1.25)
ax.yaxis.grid(True, linestyle=(0, (1.2, 5)), color='#b4b4b4', lw=1.3)
ax.tick_params(axis='y', direction='out', length=6, width=1.5, labelsize=10.5, pad=3)
ax.tick_params(axis='x', direction='out', length=4, width=1.5, labelsize=10.5, pad=5)

ax2.set_ylim(0, 2)
p_ticks = np.arange(0, 2.01, 0.2)
ax2.set_yticks(p_ticks)
ax2.set_yticklabels(['%g' % round(v, 1) for v in p_ticks])
ax2.tick_params(axis='y', direction='out', length=6, width=1.5, labelsize=10.5, pad=3)

for a in (ax, ax2):
    for side in ('left', 'right', 'bottom'):
        a.spines[side].set_linewidth(2.5)
    a.spines['top'].set_linewidth(2.0)

# legend box
ax.add_patch(Rectangle((0.3826, 0.886), 0.2357, 0.114, transform=ax.transAxes,
                       facecolor='white', edgecolor='black', lw=1.5, zorder=10))
for i, (lab, col) in enumerate(zip(legend_items, legend_colors)):
    ax.text(0.501, 0.9858 - i * 0.0276, lab, color=col, fontsize=14.5,
            ha='center', va='center', transform=ax.transAxes, zorder=11)

# header texts
fig.text(585 / 1200, 1 - 19 / 927, title, fontsize=25, ha='center', va='center')
for i, s in enumerate(info_left):
    fig.text(98 / 1200, 1 - (40 + 26.5 * i) / 927, s, fontsize=17.2, ha='left', va='center')
fig.text(1101 / 1200, 1 - 64 / 927, model_txt, fontsize=17.2, ha='right', va='center')
fig.text(1101 / 1200, 1 - 89 / 927, site_txt, fontsize=17.5, ha='right', va='center',
         color='#0aa2f5', fontweight='bold')

# axis titles
fig.text(30 / 1200, 1 - 495 / 927, '850 hPa Temperature (red, °C)', fontsize=25,
         rotation=270, ha='center', va='center')
fig.text(1172 / 1200, 1 - 495 / 927, '6-hour Precipitation (green, inches)', fontsize=25,
         rotation=270, ha='center', va='center')

fig.savefig('out.png', dpi=100)
